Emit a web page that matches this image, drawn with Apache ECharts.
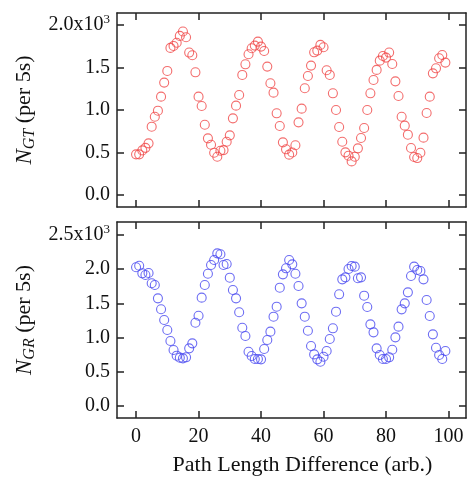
<!DOCTYPE html>
<html><head><meta charset="utf-8">
<script src="https://cdn.jsdelivr.net/npm/echarts@6/dist/echarts.min.js"></script>
<style>html,body{margin:0;padding:0;background:#fff}#c{width:469px;height:480px}</style>
</head><body><div id="c"></div>
<script>
const pathLength = [0,1,2,3,4,5,6,7,8,9,10,11,12,13,14,15,16,17,18,19,20,21,22,23,24,25,26,27,28,29,30,31,32,33,34,35,36,37,38,39,40,41,42,43,44,45,46,47,48,49,50,51,52,53,54,55,56,57,58,59,60,61,62,63,64,65,66,67,68,69,70,71,72,73,74,75,76,77,78,79,80,81,82,83,84,85,86,87,88,89,90,91,92,93,94,95,96,97,98,99];
const nGT = [479,479,525,555,608,804,921,992,1157,1322,
1459,1730,1753,1790,1871,1922,1855,1675,1643,1443,
1157,1047,827,667,592,498,451,521,529,627,
702,902,1051,1176,1412,1537,1655,1726,1757,1804,
1745,1694,1510,1314,1204,961,812,620,538,475,
500,586,855,1016,1255,1400,1522,1678,1698,1765,
1737,1467,1412,1196,1000,800,627,502,463,396,
451,549,671,788,1000,1196,1353,1471,1580,1635,
1616,1675,1541,1337,1165,921,816,710,553,447,
435,498,675,965,1157,1431,1490,1608,1647,1557];
const nGR = [2028,2051,1940,1915,1944,1794,1769,1574,1414,1257,
1111,950,819,736,707,697,712,843,916,1218,
1320,1584,1769,1934,2061,2135,2232,2218,2061,2076,
1876,1696,1574,1370,1145,1023,794,731,687,687,
682,833,965,1087,1306,1452,1730,1925,2013,2135,
2071,1934,1754,1501,1306,1101,877,755,682,648,
721,804,980,1136,1379,1633,1852,1881,2003,2047,
2037,1867,1881,1613,1447,1194,1077,843,746,687,
687,712,823,1004,1160,1413,1501,1662,1900,2037,
1988,1974,1852,1550,1316,1048,852,746,687,804];
const xTicks = [0,20,40,60,80,100];
const yTicksTop = [0,500,1000,1500,2000];
const yTicksBot = [0,500,1000,1500,2000,2500];
const xTitle = 'Path Length Difference (arb.)';

const FONT = '"Liberation Serif","DejaVu Serif",serif';
const LINE = {show:true, onZero:false, lineStyle:{color:'#222', width:1.5}};
function tick(vals){return {show:true, inside:true, length:7, customValues:vals, lineStyle:{color:'#222', width:1.5}};}
function xAx(grid, pos, labels){
  return {type:'value', gridIndex:grid, position:pos, min:-6.1, max:105.6,
    axisLine:LINE, axisTick:tick(xTicks), splitLine:{show:false},
    axisLabel:{show:labels, customValues:xTicks, margin:9, color:'#111', fontFamily:FONT, fontSize:20},
    name: labels ? xTitle : '', nameLocation:'middle', nameGap:36,
    nameTextStyle:{fontFamily:FONT, fontSize:22, color:'#111', padding:[0,0,0,22]}};
}
function yLabelFmt(topVal, topStr){
  return function(v){ return v===topVal ? '{a|'+topStr+'x10}{s|3}' : '{a|'+(v/1000).toFixed(1)+'}'; };
}
const richLab = {a:{fontFamily:FONT, fontSize:20, color:'#111', lineHeight:24},
  s:{fontFamily:FONT, fontSize:13, color:'#111', verticalAlign:'top', lineHeight:13}};
function yAx(grid, pos, labels, min, max, vals, topVal, topStr, nameRich){
  return {type:'value', gridIndex:grid, position:pos, min:min, max:max,
    axisLine:LINE, axisTick:tick(vals), splitLine:{show:false},
    axisLabel:{show:labels, customValues:vals, margin:7, formatter:yLabelFmt(topVal, topStr), rich:richLab},
    name: labels ? nameRich : '', nameLocation:'middle', nameRotate:90, nameGap:70,
    nameTextStyle:{fontFamily:FONT, fontSize:22, color:'#111', rich:{
      n:{fontFamily:FONT, fontSize:23, fontStyle:'italic', color:'#111', lineHeight:26},
      b:{fontFamily:FONT, fontSize:16, fontStyle:'italic', color:'#111', verticalAlign:'bottom', lineHeight:16},
      p:{fontFamily:FONT, fontSize:22, color:'#111', lineHeight:26}}}};
}
const chart = echarts.init(document.getElementById('c'), null, {renderer:'canvas'});
chart.setOption({
  animation:false,
  backgroundColor:'#fff',
  grid:[{left:117, right:3, top:13, height:194}, {left:117, right:3, top:222, height:196}],
  xAxis:[xAx(0,'bottom',false), xAx(0,'top',false), xAx(1,'bottom',true), xAx(1,'top',false)],
  yAxis:[yAx(0,'left',true,-140,2140,yTicksTop,2000,'2.0','{n|N}{b|GT} {p|(per 5s)}'),
         yAx(0,'right',false,-140,2140,yTicksTop,2000,'2.0',''),
         yAx(1,'left',true,-175,2690,yTicksBot,2500,'2.5','{n|N}{b|GR} {p|(per 5s)}'),
         yAx(1,'right',false,-175,2690,yTicksBot,2500,'2.5','')],
  series:[
    {type:'scatter', xAxisIndex:0, yAxisIndex:0, symbol:'circle', symbolSize:9,
     itemStyle:{color:'rgba(0,0,0,0)', borderColor:'#f04848', borderWidth:1.1},
     data: pathLength.map((x,i)=>[x, nGT[i]])},
    {type:'scatter', xAxisIndex:2, yAxisIndex:2, symbol:'circle', symbolSize:9,
     itemStyle:{color:'rgba(0,0,0,0)', borderColor:'#4848f0', borderWidth:1.1},
     data: pathLength.map((x,i)=>[x, nGR[i]])}
  ]
});
</script></body></html>
